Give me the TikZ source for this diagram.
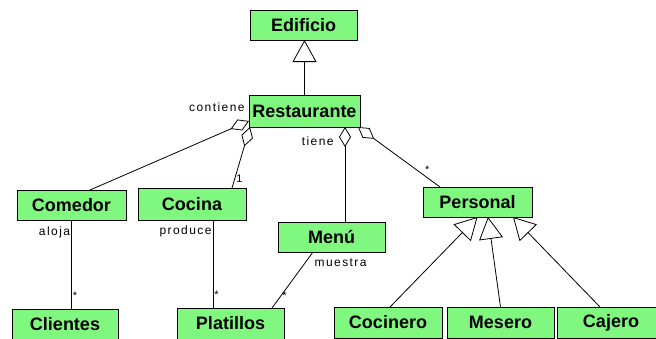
\documentclass[tikz,border=0pt]{standalone}
\usepackage{fontspec}
\setmainfont{Liberation Sans}
\newfontfamily\rolefont[LetterSpace=12]{Liberation Sans}
\usetikzlibrary{arrows.meta}
\definecolor{clsgreen}{RGB}{128,248,128}
\tikzset{
  cls/.style={draw=black,line width=1pt,fill=clsgreen,minimum width=107pt,minimum height=30pt,
    inner sep=0pt,outer sep=0pt,font=\fontsize{18}{20}\selectfont\bfseries},
  agg/.style={{Diamond[open,length=20pt,width=12pt]}-},
  gen/.style={-{Triangle[open,length=22pt,width=24pt]}},
  role/.style={font=\rolefont\fontsize{12}{13}\selectfont,inner sep=1pt},
  mult/.style={font=\fontsize{11}{11}\selectfont,inner sep=1pt}
}

\begin{document}
\begin{tikzpicture}[x=1pt,y=-1pt,line width=0.8pt]
    \useasboundingbox (0,0) rectangle (656,338);
    \clip (0,0) rectangle (656,338);
    \node[cls] (edificio) at (303.5,25) {Edificio};
    \node[cls,minimum width=111pt,minimum height=32pt] (restaurante) at (304.5,111) {Restaurante};
    \node[cls,minimum width=109pt] (comedor) at (71.5,205) {Comedor};
    \node[cls,minimum width=108pt,minimum height=32pt] (cocina) at (192,204) {Cocina};
    \node[cls] (menu) at (331.5,237) {Menú};
    \node[cls,minimum width=109pt] (personal) at (477.5,202) {Personal};
    \node[cls,minimum width=106pt,minimum height=31pt] (clientes) at (65,324.5) {Clientes};
    \node[cls,minimum height=31pt] (platillos) at (230.5,323.5) {Platillos};
    \node[cls,minimum width=108pt,minimum height=31pt] (cocinero) at (388,322.5) {Cocinero};
    \node[cls,minimum height=31pt] (mesero) at (500.5,322.5) {Mesero};
    \node[cls,minimum width=108pt,minimum height=31pt] (cajero) at (611,322.5) {Cajero};

    \draw[gen] (restaurante.north) -- (restaurante.north |- edificio.south);
    \draw[agg] ([yshift=6pt]restaurante.south west) -- ([xshift=18.5pt]comedor.north);
    \node[role,anchor=east] (contiene) at (246,107) {contiene};
    \draw[agg] ([xshift=1pt]restaurante.south west) -- ([xshift=40pt]cocina.north)
        node[mult,pos=0.84,right] {1};
    \draw[agg] ([xshift=40.5pt]restaurante.south) -- ([xshift=40.5pt]restaurante.south |- menu.north);
    \node[role,anchor=east] (tiene) at (335,141) {tiene};
    \draw[agg] ([xshift=-2pt]restaurante.south east) -- ([xshift=-37.5pt]personal.north)
        node[mult,pos=0.8,above right] {*};

    \draw (comedor.south) -- (comedor.south |- clientes.north)
        node[role,pos=0.135,left] {aloja} node[mult,pos=0.85,right] {*};
    \draw ([xshift=21pt]cocina.south) -- ([xshift=21pt]cocina.south |- platillos.north)
        node[role,pos=0.135,left] {produce} node[mult,pos=0.85,right] {*};
    \draw ([xshift=-18.5pt]menu.south) -- ([xshift=41.5pt]platillos.north)
        node[role,pos=0.19,anchor=west,xshift=8pt] {muestra} node[mult,pos=0.78,right] {*};

    \draw[gen] ([xshift=2pt]cocinero.north) -- (personal.south);
    \draw[gen] (mesero.north) -- ([xshift=10.5pt]personal.south);
    \draw[gen] ([xshift=-11pt]cajero.north) -- ([xshift=35.5pt]personal.south);
\end{tikzpicture}
\end{document}
